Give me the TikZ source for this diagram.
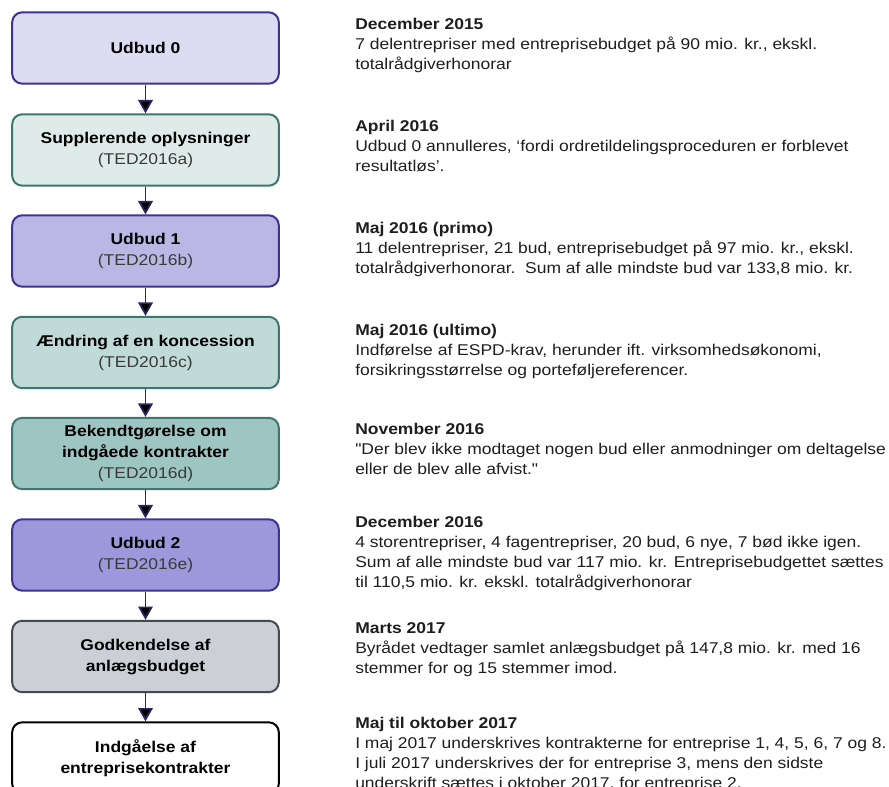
\documentclass[tikz,border=0pt]{standalone}
\usepackage{fontspec}
\defaultfontfeatures[\rmfamily]{}
\setmainfont[FakeStretch=1.12]{Liberation Sans}
\usetikzlibrary{arrows.meta}

\definecolor{lavA}{HTML}{DEDCF2}
\definecolor{lavB}{HTML}{BAB7E4}
\definecolor{lavC}{HTML}{9D98DB}
\definecolor{lavline}{HTML}{3D3390}
\definecolor{tealA}{HTML}{DEEBE8}
\definecolor{tealB}{HTML}{BFDAD7}
\definecolor{tealC}{HTML}{9DC5C1}
\definecolor{tealline}{HTML}{3E7670}
\definecolor{greyfill}{HTML}{CCD0D6}
\definecolor{greyline}{HTML}{454A52}
\definecolor{arrowblue}{HTML}{2B2560}
\definecolor{subgrey}{HTML}{3A3A3A}
\definecolor{bodytext}{HTML}{1E1E1E}

\tikzset{
  box/.style={draw,rounded corners=7.5pt,line width=1.5pt,minimum width=200pt,
    minimum height=53.5pt,align=center,inner sep=2pt,
    font=\fontsize{11.7pt}{15.75pt}\selectfont},
  note/.style={anchor=north west,align=left,inner sep=0pt,text=bodytext,
    font=\fontsize{11.7pt}{15pt}\selectfont},
  flow/.style={-{Triangle[width=11pt,length=10pt]},draw=arrowblue,line width=1.3pt},
}
\newcommand{\ted}[1]{\\\textcolor{subgrey}{(#1)}}

\begin{document}
\begin{tikzpicture}[x=0.75pt,y=-0.75pt]
   \useasboundingbox (0,0) rectangle (889,787);
   \clip (0,0) rectangle (889,787);
   % flow of boxes
   \node[box,fill=lavA,draw=lavline] (udbud0) at (145.5,48) {\textbf{Udbud 0}};
   \node[box,fill=tealA,draw=tealline] (suppl) at (145.5,150) {\textbf{Supplerende oplysninger}\ted{TED2016a}};
   \node[box,fill=lavB,draw=lavline] (udbud1) at (145.5,251) {\textbf{Udbud 1}\ted{TED2016b}};
   \node[box,fill=tealB,draw=tealline] (aendr) at (145.5,352.5) {\textbf{Ændring af en koncession}\ted{TED2016c}};
   \node[box,fill=tealC,draw=tealline] (bekendt) at (145.5,453.5) {\textbf{Bekendtgørelse om}\\\textbf{indgåede kontrakter}\ted{TED2016d}};
   \node[box,fill=lavC,draw=lavline] (udbud2) at (145.5,555) {\textbf{Udbud 2}\ted{TED2016e}};
   \node[box,fill=greyfill,draw=greyline] (godk) at (145.5,656.5) {\textbf{Godkendelse af}\\\textbf{anlægsbudget}};
   \node[box,fill=white,draw=black] (indg) at (145.5,758) {\textbf{Indgåelse af}\\\textbf{entreprisekontrakter}};
   \path[flow] (udbud0) edge (suppl)  (suppl) edge (udbud1)  (udbud1) edge (aendr)
            (aendr) edge (bekendt)  (bekendt) edge (udbud2)  (udbud2) edge (godk)
            (godk) edge (indg);
   % dates and notes
   \node[note] (n0) at (355,17.5) {\textbf{December 2015}\\7 delentrepriser med entreprisebudget på 90 mio. kr., ekskl.\\totalrådgiverhonorar};
   \node[note] (n1) at (355,119.5) {\textbf{April 2016}\\Udbud 0 annulleres, ‘fordi ordretildelingsproceduren er forblevet\\resultatløs’.};
   \node[note] (n2) at (355,221.5) {\textbf{Maj 2016 (primo)}\\11 delentrepriser, 21 bud, entreprisebudget på 97 mio. kr., ekskl.\\totalrådgiverhonorar.\ \ Sum af alle mindste bud var 133,8 mio. kr.};
   \node[note] (n3) at (355,323.5) {\textbf{Maj 2016 (ultimo)}\\Indførelse af ESPD-krav, herunder ift. virksomhedsøkonomi,\\forsikringsstørrelse og porteføljereferencer.};
   \node[note] (n4) at (355,422.5) {\textbf{November 2016}\\"Der blev ikke modtaget nogen bud eller anmodninger om deltagelse\\eller de blev alle afvist."};
   \node[note] (n5) at (355,516) {\textbf{December 2016}\\4 storentrepriser, 4 fagentrepriser, 20 bud, 6 nye, 7 bød ikke igen.\\Sum af alle mindste bud var 117 mio. kr. Entreprisebudgettet sættes\\til 110,5 mio. kr. ekskl. totalrådgiverhonorar};
   \node[note] (n6) at (355,622.5) {\textbf{Marts 2017}\\Byrådet vedtager samlet anlægsbudget på 147,8 mio. kr. med 16\\stemmer for og 15 stemmer imod.};
   \node[note] (n7) at (355,717) {\textbf{Maj til oktober 2017}\\I maj 2017 underskrives kontrakterne for entreprise 1, 4, 5, 6, 7 og 8.\\I juli 2017 underskrives der for entreprise 3, mens den sidste\\underskrift sættes i oktober 2017, for entreprise 2.};
\end{tikzpicture}
\end{document}
